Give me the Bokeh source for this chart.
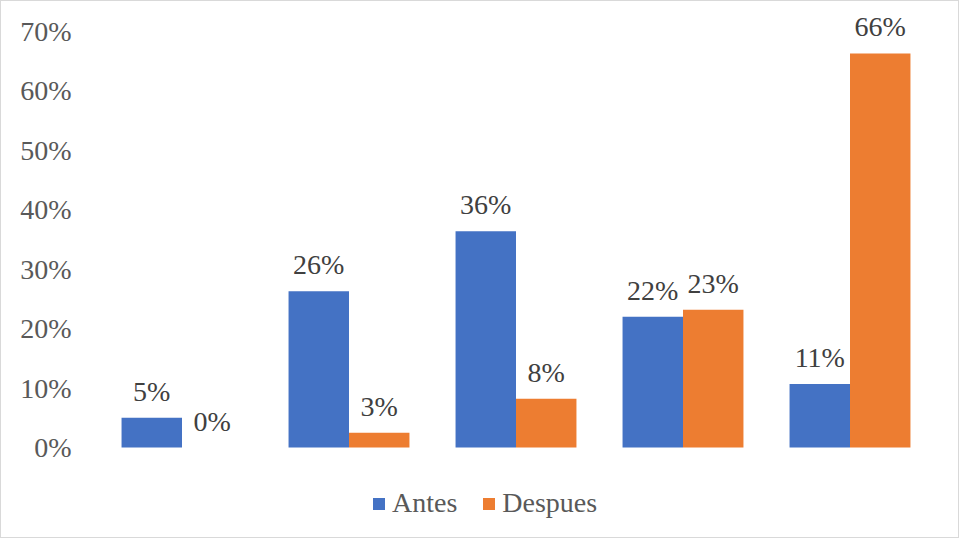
from bokeh.plotting import figure
from bokeh.models import (ColumnDataSource, FactorRange, Range1d, FixedTicker,
                          LabelSet, Legend, LegendItem)
from bokeh.transform import dodge
from bokeh.embed import file_html
from bokeh.resources import INLINE

categories = ["1", "2", "3", "4", "5"]
antes = [0.05, 0.263, 0.364, 0.22, 0.107]
despues = [0.0, 0.025, 0.082, 0.232, 0.663]
antes_labels = ["5%", "26%", "36%", "22%", "11%"]
despues_labels = ["0%", "3%", "8%", "23%", "66%"]
y_ticks = [0, 0.1, 0.2, 0.3, 0.4, 0.5, 0.6, 0.7]
y_tick_labels = ["0%", "10%", "20%", "30%", "40%", "50%", "60%", "70%"]

src = ColumnDataSource(dict(cat=categories, antes=antes, despues=despues,
                            al=antes_labels, dl=despues_labels))

FONT = "Times"
BW = 0.362
PX_PER_UNIT = 416 / 0.7  # plot scale (px per 100%)

p = figure(width=959, height=538, x_range=FactorRange(*categories, range_padding=0),
           y_range=Range1d(-92 / PX_PER_UNIT, 0.7 + 30 / PX_PER_UNIT),
           output_backend="svg", toolbar_location=None,
           min_border_left=97, min_border_right=27, min_border_top=0, min_border_bottom=0)
p.styles = {"border": "1px solid #d9d9d9"}
p.outline_line_color = None
p.xgrid.visible = False
p.ygrid.visible = False
p.xaxis.visible = False

ya = p.yaxis[0]
ya.ticker = FixedTicker(ticks=y_ticks)
ya.major_label_overrides = {t: l for t, l in zip(y_ticks, y_tick_labels)}
ya.axis_line_color = None
ya.major_tick_line_color = None
ya.minor_tick_line_color = None
ya.major_tick_out = 0
ya.major_tick_in = 0
ya.major_label_standoff = 27
ya.major_label_text_font = FONT
ya.major_label_text_font_size = "28px"
ya.major_label_text_color = "#595959"

r1 = p.vbar(x=dodge("cat", -BW / 2, range=p.x_range), top="antes", width=BW,
            source=src, fill_color="#4472C4", line_color=None)
r2 = p.vbar(x=dodge("cat", BW / 2, range=p.x_range), top="despues", width=BW,
            source=src, fill_color="#ED7D31", line_color=None)

for col, lab, off in (("antes", "al", -BW / 2), ("despues", "dl", BW / 2)):
    ls = LabelSet(x=dodge("cat", off, range=p.x_range), y=col, text=lab, source=src,
                  text_align="center", text_baseline="alphabetic", y_offset=17,
                  text_font=FONT, text_font_size="28px", text_color="#404040")
    p.add_layout(ls)

legend = Legend(items=[LegendItem(label="Antes", renderers=[r1]),
                       LegendItem(label="Despues", renderers=[r2])],
                location=(273, 20), orientation="horizontal",
                glyph_width=15, glyph_height=15, label_standoff=6, spacing=24,
                padding=0, margin=0, border_line_color=None, background_fill_alpha=0,
                label_text_font=FONT, label_text_font_size="28px",
                label_text_color="#595959")
p.add_layout(legend, "center")

open("out.html", "w").write(file_html(p, INLINE))
